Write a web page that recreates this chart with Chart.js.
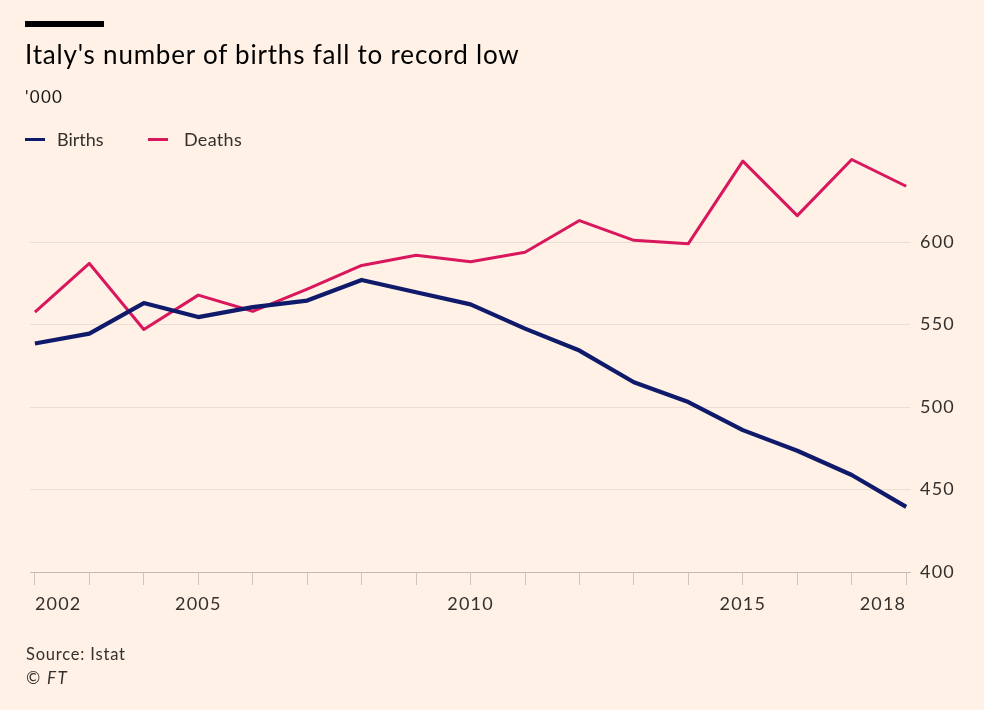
<!DOCTYPE html>
<html>
<head>
<meta charset="utf-8">
<script src="https://cdn.jsdelivr.net/npm/chart.js@4"></script>
<style>
  html, body { margin: 0; padding: 0; background: #fff1e5; }
  body { width: 984px; height: 710px; position: relative; overflow: hidden; font-family: Lato, "Open Sans", sans-serif; color: #1a1817; }
  #wrap { position: absolute; left: 0; top: 0; width: 984px; height: 710px; }
  .t { position: absolute; white-space: nowrap; line-height: 1; }
  #bar { position: absolute; left: 25px; top: 21px; width: 79px; height: 6px; background: #000; }
  #title { left: 25px; top: 41px; font-size: 26px; letter-spacing: 0.8px; color: #000; }
  #unit { left: 25px; top: 88px; font-size: 17px; letter-spacing: 1.3px; color: #1a1817; }
  .lg { position: absolute; top: 138px; width: 20px; height: 3px; }
  #lgb { left: 25px; background: #0f1a6b; }
  #lgd { left: 148px; background: #d8175d; }
  #lbt { left: 57px; top: 130px; font-size: 18px; color: #33302e; }
  #ldt { left: 184px; top: 130px; font-size: 18px; letter-spacing: 0.3px; color: #33302e; }
  #src { left: 26px; top: 646px; font-size: 16.5px; letter-spacing: 0.8px; color: #33302e; }
  #ft { left: 26px; top: 669px; font-size: 17px; letter-spacing: 1.5px; font-style: italic; color: #33302e; }
</style>
</head>
<body>
<div id="wrap"><canvas id="c"></canvas></div>
<div id="bar"></div>
<div class="t" id="title">Italy's number of births fall to record low</div>
<div class="t" id="unit">'000</div>
<div class="lg" id="lgb"></div><div class="t" id="lbt">Births</div>
<div class="lg" id="lgd"></div><div class="t" id="ldt">Deaths</div>
<div class="t" id="src">Source: Istat</div>
<div class="t" id="ft">© FT</div>
<script>
const years = [2002, 2003, 2004, 2005, 2006, 2007, 2008, 2009, 2010, 2011, 2012, 2013, 2014, 2015, 2016, 2017, 2018];
const births = [538.5, 544.5, 563, 554.5, 560.5, 564.5, 577, 569.5, 562.2, 547.5, 534.2, 515, 503, 486, 473.5, 458.8, 439.5];
const deaths = [557.5, 587, 547, 567.8, 558, 571.5, 585.8, 592, 588, 593.8, 613, 601, 599, 649, 616, 650, 633.8];
const labelledYears = [2002, 2005, 2010, 2015, 2018];
const yTicks = [400, 450, 500, 550, 600];

const toPts = arr => arr.map((v, i) => ({ x: years[i], y: v }));

const spacing = {
  id: 'spacing',
  beforeInit: c => { c.ctx.letterSpacing = '1.2px'; },
  beforeUpdate: c => { c.ctx.letterSpacing = '1.2px'; },
  beforeDraw: c => { c.ctx.letterSpacing = '1.2px'; }
};

new Chart(document.getElementById('c'), {
  type: 'line',
  plugins: [spacing],
  data: {
    datasets: [
      { label: 'Births', data: toPts(births), borderColor: '#0f1a6b', borderWidth: 4.2, pointRadius: 0, tension: 0, borderJoinStyle: 'round', borderCapStyle: 'butt' },
      { label: 'Deaths', data: toPts(deaths), borderColor: '#d8175d', borderWidth: 3, pointRadius: 0, tension: 0, borderJoinStyle: 'round', borderCapStyle: 'butt' }
    ]
  },
  options: {
    responsive: true,
    maintainAspectRatio: false,
    animation: false,
    layout: { padding: { left: 30, top: 143, right: 0, bottom: 0 } },
    plugins: { legend: { display: false }, tooltip: { enabled: false } },
    scales: {
      x: {
        type: 'linear',
        min: 2001.91,
        max: 2018.07,
        afterBuildTicks: ax => { ax.ticks = years.map(v => ({ value: v })); },
        afterFit: ax => { ax.height = 138; },
        grid: { drawOnChartArea: false, drawTicks: true, tickLength: 13, color: '#cfc5bc', lineWidth: 1 },
        border: { display: true, color: '#c4bab2', width: 1 },
        ticks: {
          autoSkip: false,
          maxRotation: 0,
          align: 'inner',
          padding: 8,
          color: '#33302e',
          font: { family: 'Lato', size: 18 },
          callback: v => labelledYears.includes(v) ? String(v) : ''
        }
      },
      y: {
        position: 'right',
        min: 400,
        max: 660,
        afterBuildTicks: ax => { ax.ticks = yTicks.map(v => ({ value: v })); },
        afterFit: ax => { ax.width = 74; },
        grid: { drawTicks: false, color: '#eaded4', lineWidth: 1 },
        border: { display: false },
        ticks: {
          padding: 10,
          color: '#33302e',
          font: { family: 'Lato', size: 18 }
        }
      }
    }
  }
});
</script>
</body>
</html>
